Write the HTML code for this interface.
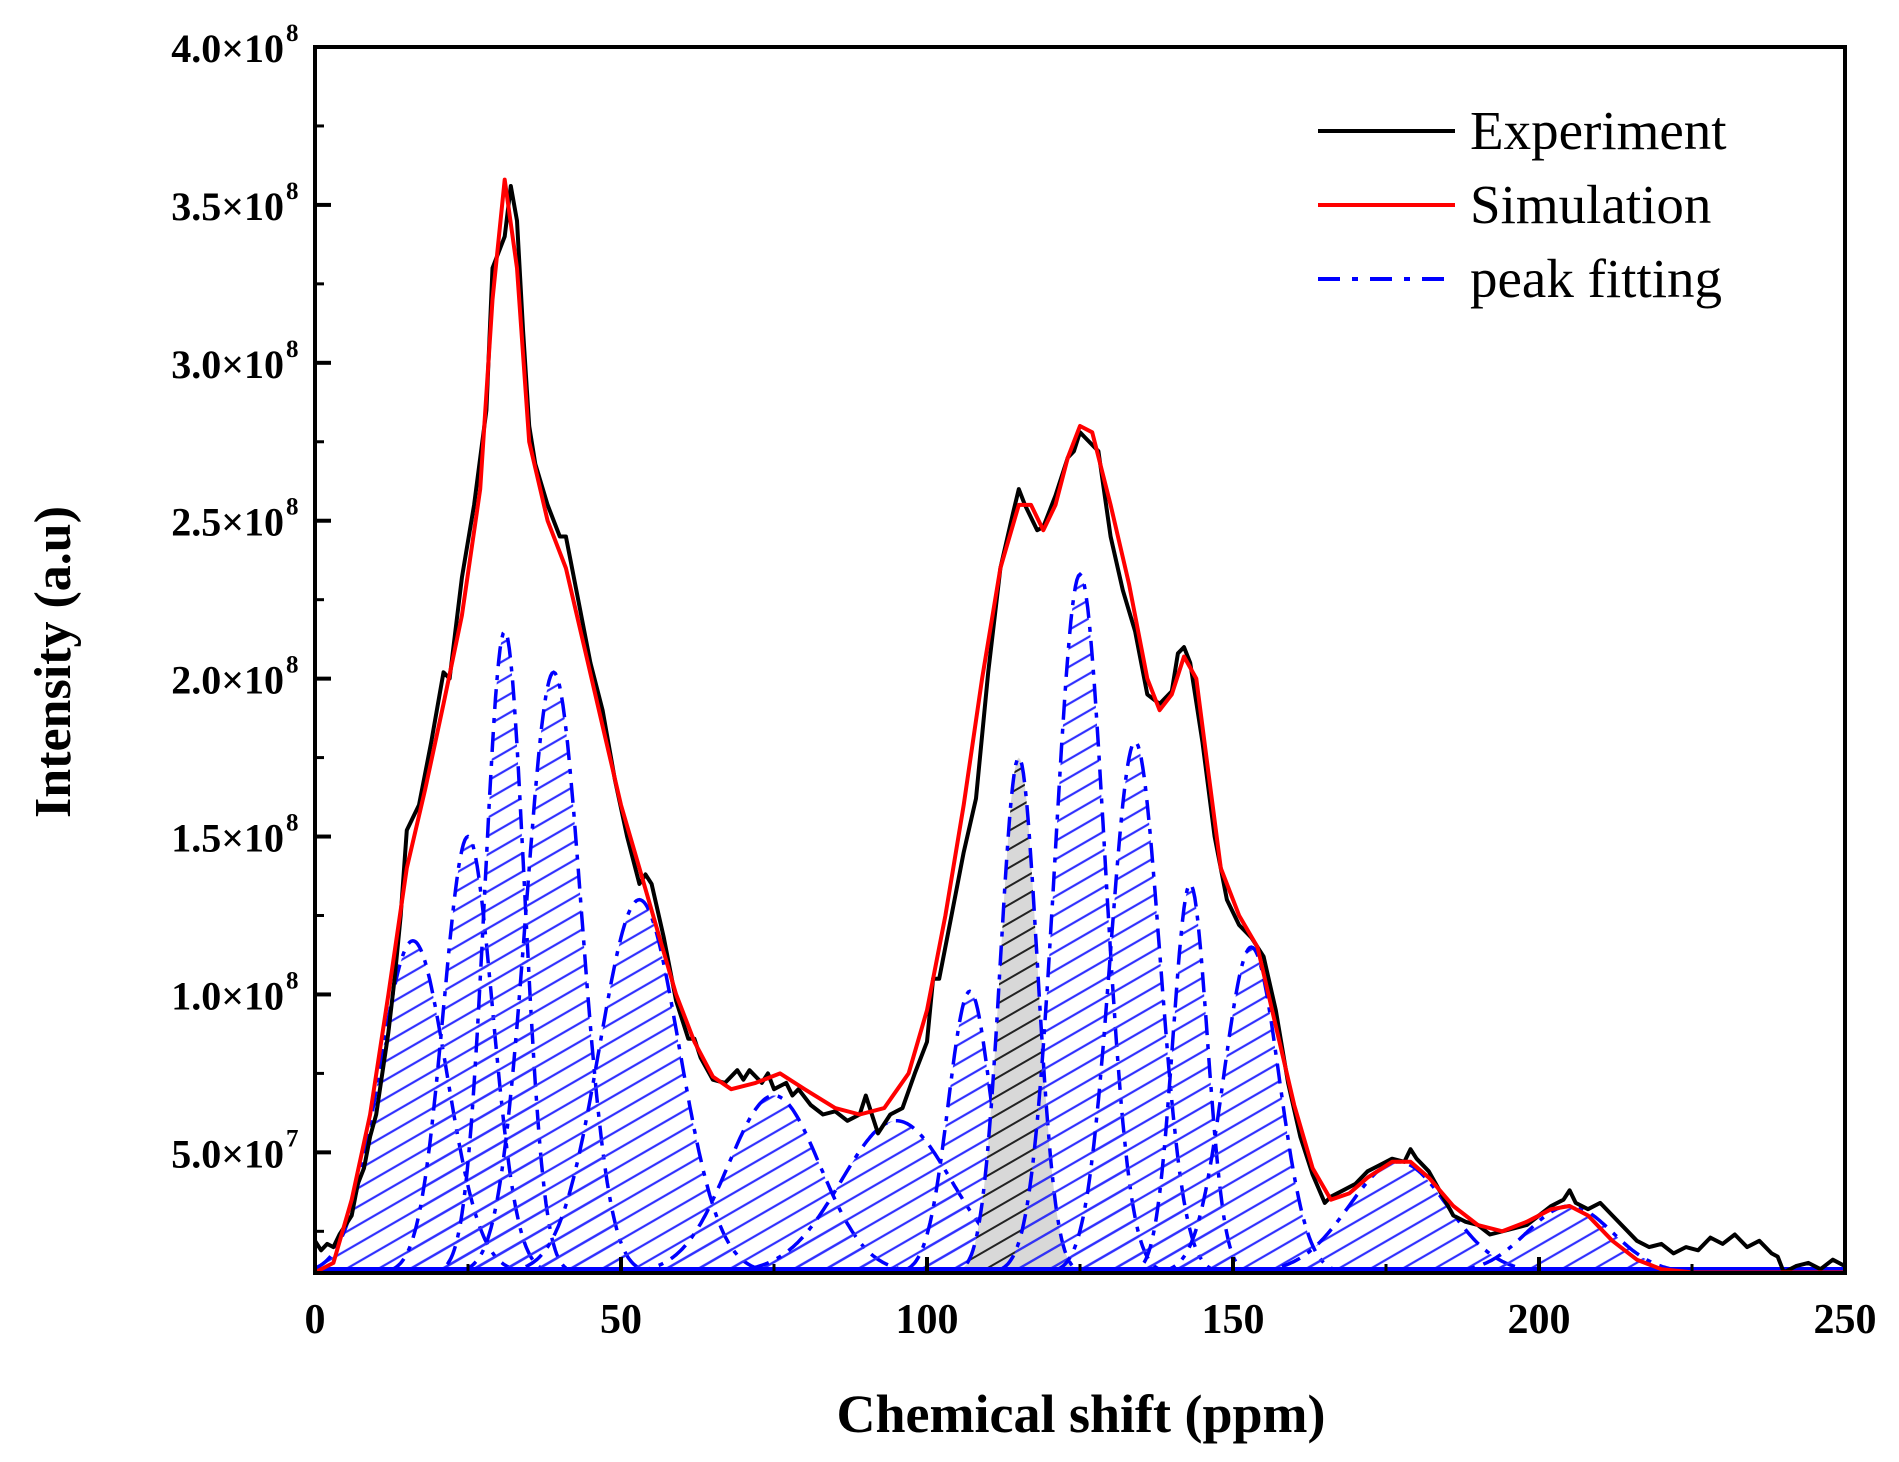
<!DOCTYPE html>
<html><head><meta charset="utf-8"><style>
html,body{margin:0;padding:0;background:#fff;}
svg{display:block;font-family:"Liberation Serif",serif;}
</style></head><body>
<svg id="chart" width="1899" height="1462" viewBox="0 0 1899 1462">
<defs>
<pattern id="hatch" patternUnits="userSpaceOnUse" width="16" height="16" patternTransform="rotate(-30)">
<line x1="0" y1="8" x2="16" y2="8" stroke="#3030ff" stroke-width="2.2"/>
</pattern>
<pattern id="hatchGray" patternUnits="userSpaceOnUse" width="16" height="16" patternTransform="rotate(-30)">
<rect width="16" height="16" fill="#d8d8d8"/>
<line x1="0" y1="8" x2="16" y2="8" stroke="#222" stroke-width="2"/>
</pattern>
<clipPath id="plotClip"><rect x="315" y="47" width="1530" height="1226"/></clipPath>
</defs>
<g id="marks" clip-path="url(#plotClip)"></g>
<g id="axes"></g>
<g id="legend">
<line x1="1318" y1="131" x2="1455" y2="131" stroke="#000" stroke-width="4"/>
<text x="1470" y="149" font-size="55">Experiment</text>
<line x1="1318" y1="205" x2="1455" y2="205" stroke="#ff0000" stroke-width="4"/>
<text x="1470" y="223" font-size="55">Simulation</text>
<line x1="1318" y1="279" x2="1455" y2="279" stroke="#0000ff" stroke-width="4" stroke-dasharray="22,12,6,12"/>
<text x="1470" y="297" font-size="55">peak fitting</text>
</g>
<text x="1081" y="1432" font-size="54" font-weight="bold" text-anchor="middle">Chemical shift (ppm)</text>
<text transform="translate(70,662) rotate(-90)" font-size="52" font-weight="bold" text-anchor="middle">Intensity (a.u)</text>
</svg>
<script>
const xTicks = [0, 50, 100, 150, 200, 250];
const yTicks = [0.5, 1.0, 1.5, 2.0, 2.5, 3.0, 3.5, 4.0];
const yTickLabels = ["5.0×10", "1.0×10", "1.5×10", "2.0×10", "2.5×10", "3.0×10", "3.5×10", "4.0×10"];
const yTickExps = ["7", "8", "8", "8", "8", "8", "8", "8"];
// peaks: center (ppm), height (1e8), sigma (ppm)
const peakCenters = [16, 25, 31, 39, 53, 75, 95, 107, 115, 125, 134, 143, 153, 177, 205];
const peakHeights = [1.17, 1.50, 2.15, 2.02, 1.30, 0.68, 0.60, 1.01, 1.75, 2.33, 1.80, 1.35, 1.15, 0.47, 0.33];
const peakSigmas = [5.5, 4.0, 3.2, 4.5, 6.5, 7.5, 9.0, 3.5, 3.0, 4.0, 4.0, 2.8, 4.5, 8.0, 7.0];
const simX = [0,3,6,9,12,15,18,21,24,27,29,31,33,35,38,41,44,47,50,53,56,59,62,65,68,72,76,80,85,89,93,97,100,103,106,109,112,115,117,119,121,123,125,127,130,133,136,138,140,142,144,146,148,151,154,157,160,163,166,169,172,176,179,182,186,190,194,198,202,205,208,212,216,220,225,250];
const simY = [0.12,0.15,0.35,0.62,1.0,1.4,1.65,1.92,2.2,2.6,3.2,3.58,3.3,2.75,2.5,2.35,2.1,1.85,1.6,1.4,1.2,1.0,0.85,0.74,0.70,0.72,0.75,0.70,0.64,0.62,0.64,0.75,0.95,1.25,1.6,2.0,2.35,2.55,2.55,2.47,2.55,2.7,2.8,2.78,2.55,2.3,2.0,1.9,1.95,2.07,2.0,1.7,1.4,1.25,1.15,0.9,0.65,0.45,0.35,0.37,0.42,0.47,0.47,0.42,0.33,0.27,0.25,0.28,0.32,0.33,0.30,0.22,0.16,0.13,0.12,0.12];
const expX = [0,1,2,3,4,5,6,7,8,9,10,12,13,14,15,17,19,21,22,24,26,28,29,30,31,32,33,34,35,36,38,40,41,43,45,47,49,51,53,54,55,57,59,61,62,63,65,67,69,70,71,73,74,75,77,78,79,81,83,85,87,89,90,91,92,94,96,98,100,101,102,104,106,108,110,112,114,115,116,118,119,121,123,124,125,126,128,130,132,134,136,138,140,141,142,143,145,147,149,151,153,155,157,159,161,163,165,166,168,170,172,174,176,178,179,180,182,184,186,188,190,192,194,196,198,200,202,204,205,206,208,210,212,214,216,218,220,222,224,226,228,230,232,234,236,238,239,240,242,244,246,248,250];
const expY = [0.22,0.19,0.21,0.20,0.24,0.27,0.30,0.40,0.45,0.55,0.62,0.88,1.05,1.25,1.52,1.60,1.80,2.02,2.00,2.32,2.55,2.85,3.30,3.35,3.40,3.56,3.45,3.10,2.80,2.68,2.55,2.45,2.45,2.25,2.05,1.90,1.68,1.50,1.35,1.38,1.35,1.18,0.98,0.86,0.86,0.80,0.73,0.72,0.76,0.73,0.76,0.72,0.75,0.70,0.72,0.68,0.70,0.65,0.62,0.63,0.60,0.62,0.68,0.62,0.56,0.62,0.64,0.75,0.85,1.05,1.05,1.25,1.45,1.62,2.02,2.35,2.52,2.60,2.55,2.47,2.48,2.58,2.70,2.72,2.78,2.76,2.72,2.45,2.28,2.15,1.95,1.92,1.96,2.08,2.10,2.05,1.80,1.50,1.30,1.22,1.18,1.12,0.95,0.72,0.55,0.43,0.34,0.36,0.38,0.40,0.44,0.46,0.48,0.47,0.51,0.48,0.44,0.37,0.30,0.28,0.27,0.24,0.25,0.26,0.27,0.30,0.33,0.35,0.38,0.34,0.32,0.34,0.30,0.26,0.22,0.20,0.21,0.18,0.20,0.19,0.23,0.21,0.24,0.20,0.22,0.18,0.17,0.12,0.14,0.15,0.13,0.16,0.14,0.17];

const X0 = 315, X1 = 1845, Y0 = 1273, Y1 = 47;
const xMin = 0, xMax = 250, yMin = 0.118, yMax = 4.0;
const NS = 'http://www.w3.org/2000/svg';
function sx(v){ return X0 + (v - xMin) / (xMax - xMin) * (X1 - X0); }
function sy(v){ return Y0 - (v - yMin) / (yMax - yMin) * (Y0 - Y1); }
function mk(tag, attrs, parent){ const e = document.createElementNS(NS, tag); for (const k in attrs) e.setAttribute(k, attrs[k]); parent.appendChild(e); return e; }
const marks = document.getElementById('marks');
const axes = document.getElementById('axes');

for (let i = 0; i < peakCenters.length; i++) {
  const c = peakCenters[i], h = peakHeights[i], s = peakSigmas[i];
  let pts = [];
  const a = Math.max(0, c - 5 * s), b = Math.min(250, c + 5 * s);
  for (let x = a; x <= b; x += 0.25) {
    const v = yMin + (h - yMin) * Math.exp(-((x - c) * (x - c)) / (2 * s * s));
    pts.push(sx(x).toFixed(1) + ',' + sy(v).toFixed(1));
  }
  const fill = mk('polygon', {points: sx(a) + ',' + Y0 + ' ' + pts.join(' ') + ' ' + sx(b) + ',' + Y0, fill: i === 8 ? 'url(#hatchGray)' : 'url(#hatch)', stroke: 'none'}, marks);
  
  
  const line = mk('polyline', {points: pts.join(' '), fill: 'none', stroke: '#0000ff', 'stroke-width': 3.5, 'stroke-dasharray': '20,9,5,9'}, marks);
  
  
}
const base = mk('line', {x1: X0, y1: Y0 - 3, x2: X1, y2: Y0 - 3, stroke: '#0000ff', 'stroke-width': 6}, marks);



const exp = mk('polyline', {points: expX.map((x, i) => sx(x).toFixed(1) + ',' + sy(expY[i]).toFixed(1)).join(' '), fill: 'none', stroke: '#000', 'stroke-width': 4, 'stroke-linejoin': 'round'}, marks);


const sim = mk('polyline', {points: simX.map((x, i) => sx(x).toFixed(1) + ',' + sy(simY[i]).toFixed(1)).join(' '), fill: 'none', stroke: '#ff0000', 'stroke-width': 4, 'stroke-linejoin': 'round'}, marks);



const frame = mk('rect', {x: X0, y: Y1, width: X1 - X0, height: Y0 - Y1, fill: 'none', stroke: '#000', 'stroke-width': 4}, axes);


xTicks.forEach((t, i) => {
  const tk = mk('line', {x1: sx(t), y1: Y0, x2: sx(t), y2: Y0 - 16, stroke: '#000', 'stroke-width': 4}, axes);
  
  
  if (i < xTicks.length - 1) {
    const mn = mk('line', {x1: sx(t + 25), y1: Y0, x2: sx(t + 25), y2: Y0 - 9, stroke: '#000', 'stroke-width': 3}, axes);
    
    
  }
  const lb = mk('text', {x: sx(t), y: Y0 + 60, 'font-size': 42, 'font-weight': 'bold', 'text-anchor': 'middle'}, axes);
  lb.textContent = t;
  
  
});
yTicks.forEach((t, i) => {
  const tk = mk('line', {x1: X0, y1: sy(t), x2: X0 + 16, y2: sy(t), stroke: '#000', 'stroke-width': 4}, axes);
  
  
  const mn = mk('line', {x1: X0, y1: sy(t - 0.25), x2: X0 + 9, y2: sy(t - 0.25), stroke: '#000', 'stroke-width': 3}, axes);
  
  
  const lb = mk('text', {x: 284, y: sy(t) + 15, 'font-size': 40, 'font-weight': 'bold', 'text-anchor': 'end'}, axes);
  lb.textContent = yTickLabels[i];
  
  
  const ex = mk('text', {x: 286, y: sy(t) - 6, 'font-size': 25, 'font-weight': 'bold', 'text-anchor': 'start'}, axes);
  ex.textContent = yTickExps[i];
  
  
});
</script>
</body></html>
